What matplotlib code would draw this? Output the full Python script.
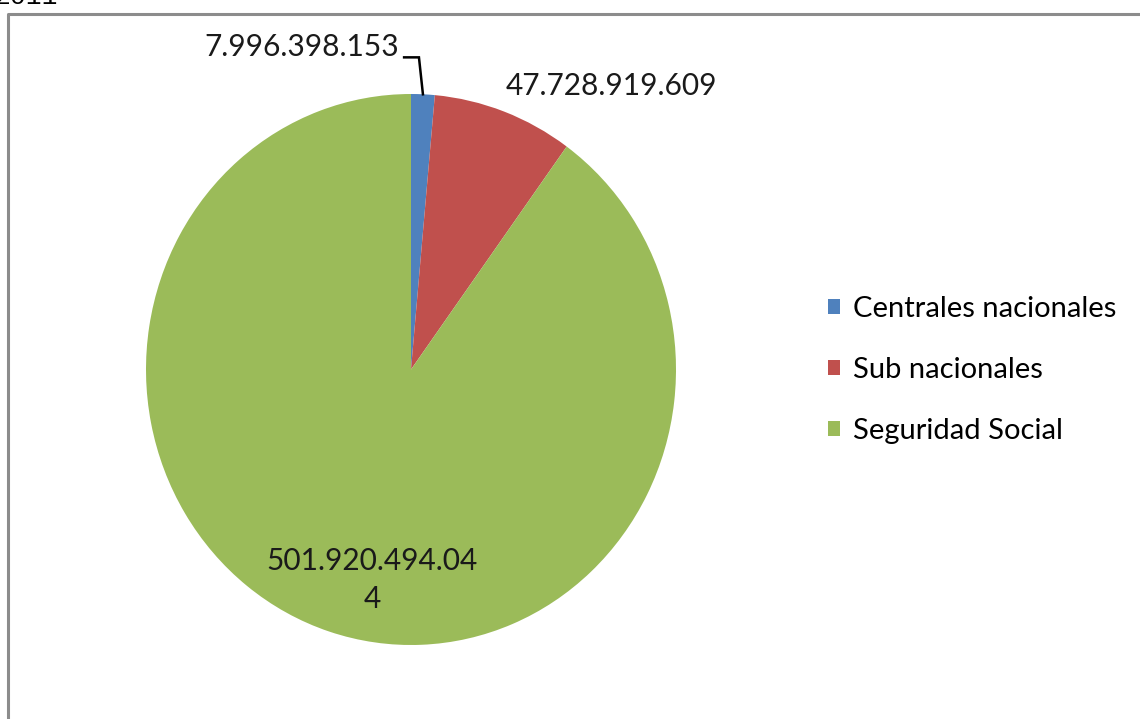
import matplotlib
matplotlib.use("Agg")
import matplotlib.pyplot as plt
from matplotlib.lines import Line2D
import numpy as np

categories = ["Centrales nacionales", "Sub nacionales", "Seguridad Social"]
values = [7996398153, 47728919609, 501920494044]
labels = ["7.996.398.153", "47.728.919.609", "501.920.494.04\n4"]
colors = ["#4F81BD", "#C0504D", "#9BBB59"]

W, H = 1140, 719
fig = plt.figure(figsize=(W / 100, H / 100), dpi=100)
fig.patch.set_facecolor("white")

# pie axes (slightly taller than wide, like the original)
cx, cy, rx, ry = 411, 369.5, 265, 275.5
ax = fig.add_axes([(cx - rx) / W, (H - cy - ry) / H, 2 * rx / W, 2 * ry / H])
wedges, _ = ax.pie(values, colors=colors, startangle=90, counterclock=False,
                   radius=1, wedgeprops=dict(linewidth=0))
ax.set_aspect("auto")
ax.set_xlim(-1, 1)
ax.set_ylim(-1, 1)

font = "Lato"
fs = 21.5

# data labels
ang = np.deg2rad((wedges[0].theta1 + wedges[0].theta2) / 2)
ex, ey = np.cos(ang), np.sin(ang)
ax.plot([-0.026, 0.030, ex], [1.133, 1.133, ey], color="black", lw=1.8,
        clip_on=False, solid_joinstyle="miter")
ax.text(-0.047, 1.17, labels[0], ha="right", va="center", fontsize=fs,
        family=font, color="#1a1a1a", clip_on=False)
ax.text(0.755, 1.03, labels[1], ha="center", va="center", fontsize=fs,
        family=font, color="#1a1a1a", clip_on=False)
ax.text(-0.147, -0.764, labels[2], ha="center", va="center", fontsize=fs,
        family=font, color="#1a1a1a", linespacing=1.4, clip_on=False)

# legend
fig.legend(wedges, categories, loc="center left",
           bbox_to_anchor=(802 / W, 1 - 370 / H), frameon=False,
           prop=dict(family=font, size=21), handlelength=0.4,
           handleheight=0.4, handletextpad=0.45, labelspacing=1.2)

# chart border (top and left visible)
fig.add_artist(Line2D([8 / W, 8 / W, 1.0], [0.0, 1 - 14 / H, 1 - 14 / H],
                      transform=fig.transFigure, color="#8c8c8c", lw=2.2))

# cut-off title above (cut off in the original as well)
fig.text(-6 / W, 1 - 4 / H, "2011", ha="left", va="baseline",
         family="Liberation Mono", fontsize=19, color="black")

fig.savefig("out.png", dpi=100)
